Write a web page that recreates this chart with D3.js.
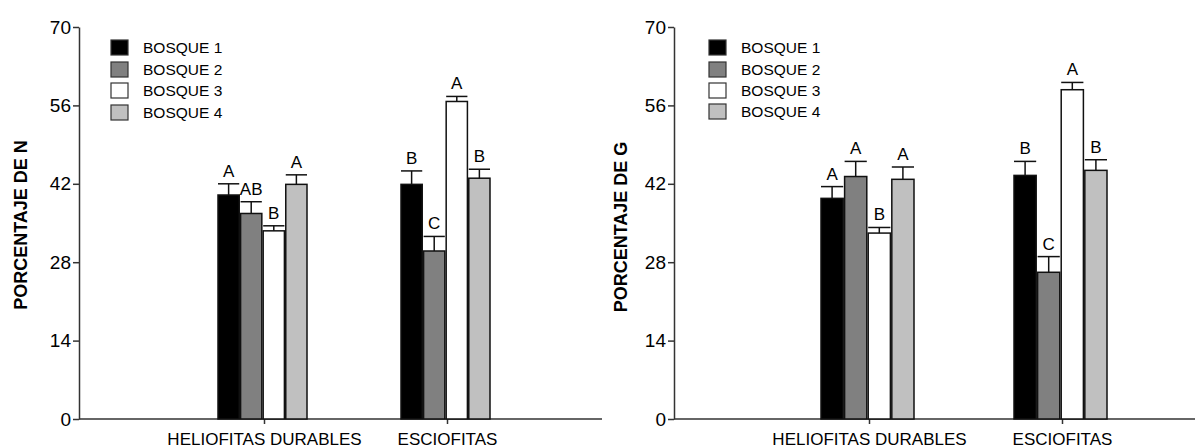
<!DOCTYPE html>
<html>
<head>
<meta charset="utf-8">
<script src="https://cdn.jsdelivr.net/npm/d3@7"></script>
<style>
  html, body { margin: 0; padding: 0; background: #fff; }
  svg { display: block; }
  text { font-family: Arial, "Liberation Sans", sans-serif; fill: #000; }
</style>
</head>
<body>
<svg id="chart" width="1195" height="448"></svg>
<script>
// Categories and series
const categories = ["HELIOFITAS DURABLES", "ESCIOFITAS"];
const series = ["BOSQUE 1", "BOSQUE 2", "BOSQUE 3", "BOSQUE 4"];
const seriesFill = ["#000000", "#808080", "#ffffff", "#c0c0c0"];
const yTicks = [0, 14, 28, 42, 56, 70];

// Porcentaje de N: means, upper error and letters, per category
const meanN = [[40.0, 36.7, 33.6, 41.9], [41.9, 30.0, 56.7, 43.0]];
const errN = [[2.0, 2.1, 0.9, 1.7], [2.4, 2.6, 0.9, 1.6]];
const lettersN = [["A", "AB", "B", "A"], ["B", "C", "A", "B"]];

// Porcentaje de G
const meanG = [[39.4, 43.3, 33.2, 42.8], [43.5, 26.2, 58.8, 44.4]];
const errG = [[2.1, 2.7, 1.0, 2.2], [2.5, 2.8, 1.3, 1.9]];
const lettersG = [["A", "A", "B", "A"], ["B", "C", "A", "B"]];

const svg = d3.select("#chart");
const axisColor = "#333";

function drawPanel(cfg) {
  const g = svg.append("g");
  const y = d3.scaleLinear().domain([0, 70]).range([419, 27]);
  // blank first slot keeps the groups off the y axis
  const x = d3.scalePoint().domain(["", ...categories]).range(cfg.xRange);
  const sub = d3.scaleBand().domain(series).range(cfg.subRange).paddingInner(0.06);
  const w = sub.bandwidth();

  // y axis
  const ya = g.append("g").attr("transform", `translate(${cfg.axisX},0)`)
    .call(d3.axisLeft(y).tickValues(yTicks).tickSize(6).tickSizeOuter(0).tickPadding(2));
  ya.selectAll("path, line").attr("stroke", axisColor).attr("stroke-width", 1.5);
  ya.selectAll("text").style("font-size", "19px").attr("fill", "#000");

  // x axis
  const xa = g.append("g").attr("transform", `translate(0,${y(0)})`)
    .call(d3.axisBottom(x).tickValues(categories).tickSize(5).tickSizeOuter(0).tickPadding(9));
  xa.select(".domain").remove();
  xa.selectAll("line").attr("stroke", axisColor).attr("stroke-width", 1.5);
  xa.selectAll("text").style("font-size", "17px").attr("fill", "#000");
  g.append("line")
    .attr("x1", cfg.axisX).attr("x2", cfg.axisEnd)
    .attr("y1", y(0)).attr("y2", y(0))
    .attr("stroke", axisColor).attr("stroke-width", 1.5);

  // y title
  g.append("text")
    .attr("transform", `translate(${cfg.titleX},${cfg.titleY}) rotate(-90)`)
    .attr("text-anchor", "middle")
    .style("font-size", "18px").style("font-weight", "bold")
    .text(cfg.title);

  // bars, error bars, letters
  categories.forEach((cat, ci) => {
    series.forEach((s, si) => {
      const m = cfg.mean[ci][si], e = cfg.err[ci][si];
      const bx = x(cat) + sub(s);
      g.append("rect")
        .attr("x", bx).attr("y", y(m))
        .attr("width", w).attr("height", y(0) - y(m))
        .attr("fill", seriesFill[si])
        .attr("stroke", "#111").attr("stroke-width", 1.5);
      const top = y(m + e);
      g.append("line")
        .attr("x1", bx + w / 2).attr("x2", bx + w / 2)
        .attr("y1", y(m)).attr("y2", top)
        .attr("stroke", "#111").attr("stroke-width", 1.5);
      g.append("line")
        .attr("x1", bx).attr("x2", bx + w)
        .attr("y1", top).attr("y2", top)
        .attr("stroke", "#111").attr("stroke-width", 1.5);
      g.append("text")
        .attr("x", bx + w / 2).attr("y", top - 7)
        .attr("text-anchor", "middle")
        .style("font-size", "17px")
        .text(cfg.letters[ci][si]);
    });
  });

  // legend
  const lg = g.append("g");
  series.forEach((s, si) => {
    const ry = cfg.legendY[si];
    lg.append("rect")
      .attr("x", cfg.legendX).attr("y", ry)
      .attr("width", 17).attr("height", 15)
      .attr("fill", seriesFill[si])
      .attr("stroke", "#333").attr("stroke-width", 1.2);
    lg.append("text")
      .attr("x", cfg.legendX + 32).attr("y", ry + 13)
      .style("font-size", "15.5px")
      .text(s);
  });
}

drawPanel({
  axisX: 79, axisEnd: 602,
  xRange: [81, 447], subRange: [-46, 43],
  titleX: 27, titleY: 225, title: "PORCENTAJE DE N",
  mean: meanN, err: errN, letters: lettersN,
  legendX: 111, legendY: [40, 62, 83, 105]
});

drawPanel({
  axisX: 674, axisEnd: 1195,
  xRange: [676, 1062], subRange: [-48, 45],
  titleX: 627, titleY: 227, title: "PORCENTAJE DE G",
  mean: meanG, err: errG, letters: lettersG,
  legendX: 709, legendY: [40, 62, 83, 104]
});
</script>
</body>
</html>
